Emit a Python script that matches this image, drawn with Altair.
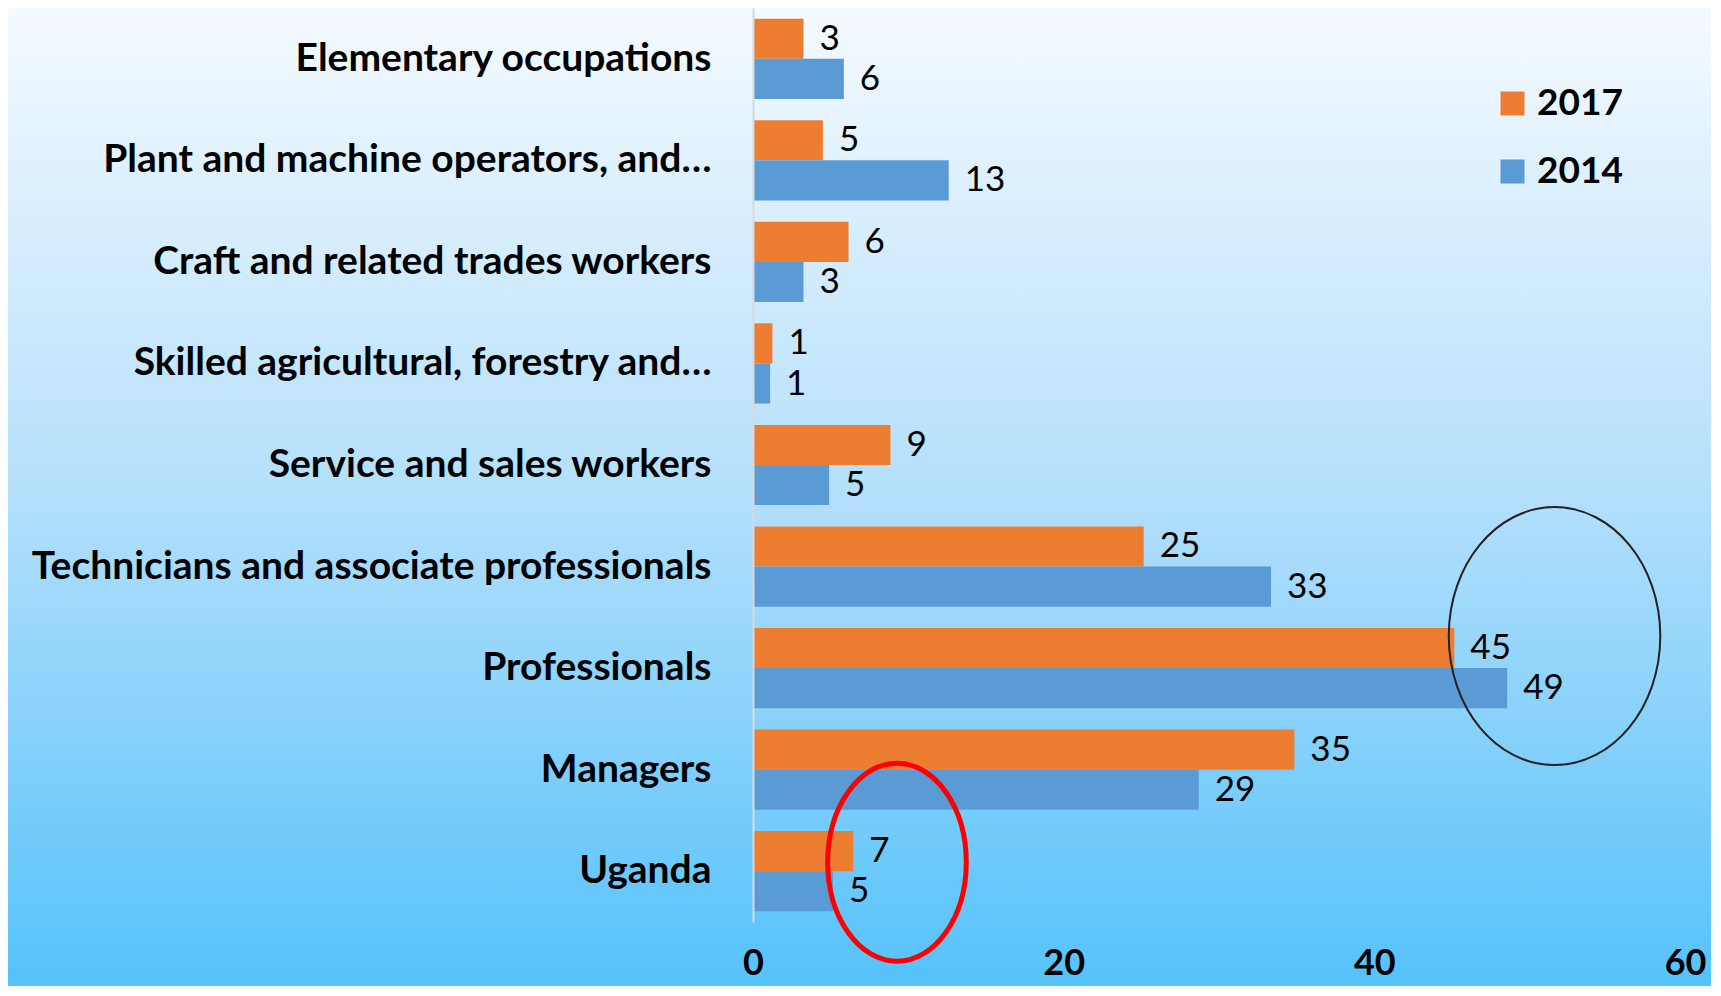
import altair as alt
import pandas as pd

categories = [
    "Elementary occupations",
    "Plant and machine operators, and…",
    "Craft and related trades workers",
    "Skilled agricultural, forestry and…",
    "Service and sales workers",
    "Technicians and associate professionals",
    "Professionals",
    "Managers",
    "Uganda",
]
years = ["2017", "2014"]
values_2017 = [3.25, 4.5, 6.15, 1.25, 8.85, 25.15, 45.15, 34.85, 6.45]
values_2014 = [5.85, 12.6, 3.25, 1.1, 4.9, 33.35, 48.55, 28.7, 5.15]
labels_2017 = [3, 5, 6, 1, 9, 25, 45, 35, 7]
labels_2014 = [6, 13, 3, 1, 5, 33, 49, 29, 5]
colors = ["#ED7D31", "#5B9BD5"]
x_ticks = [0, 20, 40, 60]

# annotation ellipses (data-space centres)
ellipse_categories = ["Uganda", "Professionals"]
ellipse_x = [9.27, 51.6]

rows = []
for i, c in enumerate(categories):
    rows.append({"category": c, "year": "2017", "value": values_2017[i], "label": str(labels_2017[i])})
    rows.append({"category": c, "year": "2014", "value": values_2014[i], "label": str(labels_2014[i])})
df = pd.DataFrame(rows)

W, H = 932, 914
PL, PR, PT, PB = 745, 26, 0, 64

x_enc = alt.X(
    "value:Q",
    scale=alt.Scale(domain=[0, 60]),
    axis=alt.Axis(
        values=x_ticks, title=None, grid=False, domain=False, ticks=False,
        labelFont="Lato", labelFontWeight="bold", labelFontSize=36,
        labelColor="black", labelPadding=24, labelFlush=False, zindex=1,
    ),
)
y_enc = alt.Y(
    "category:N",
    sort=categories,
    scale=alt.Scale(paddingInner=0.21, paddingOuter=0.105),
    axis=alt.Axis(
        title=None, ticks=False, labelFont="Lato", labelFontWeight="bold",
        labelFontSize=39, labelColor="black", labelPadding=42, labelLimit=1000,
        domainColor="#d9d9d9", domainWidth=2, zindex=1,
    ),
)
yoff_enc = alt.YOffset("year:N", sort=years)

bg = alt.Chart(alt.Data(values=[{}])).mark_rect(
    fill=alt.LinearGradient(
        gradient="linear",
        stops=[
            alt.GradientStop(color="#F5FAFF", offset=0),
            alt.GradientStop(color="#B3DFFB", offset=0.5),
            alt.GradientStop(color="#55C2FA", offset=1),
        ],
        x1=0, x2=0, y1=0, y2=1,
    )
).encode(
    x=alt.value(-PL), x2=alt.value(W + PR), y=alt.value(-PT), y2=alt.value(H + PB)
)

bars = alt.Chart(df).mark_bar().encode(
    x=x_enc,
    y=y_enc,
    yOffset=yoff_enc,
    color=alt.Color(
        "year:N",
        sort=years,
        scale=alt.Scale(domain=years, range=colors),
        legend=alt.Legend(
            title=None, orient="none", legendX=741, legendY=77,
            symbolType="square", symbolSize=576, symbolStrokeWidth=0,
            labelFont="Lato", labelFontWeight="bold", labelFontSize=37,
            labelColor="black", labelOffset=6, rowPadding=30,
        ),
    ),
)

texts = alt.Chart(df).mark_text(
    align="left", baseline="middle", dx=16, font="Lato", fontSize=35, color="black"
).encode(x=x_enc, y=y_enc, yOffset=yoff_enc, text="label:N")

ell_df = pd.DataFrame({"category": ellipse_categories, "value": ellipse_x})

red_path = "M 0 -1 A 0.7 1 0 1 1 0 1 A 0.7 1 0 1 1 0 -1 Z"
black_path = "M 0 -1 A 0.82 1 0 1 1 0 1 A 0.82 1 0 1 1 0 -1 Z"

red_ell = alt.Chart(ell_df.iloc[[0]]).mark_point(
    shape=red_path, size=(2 * 99) ** 2, filled=False, color="#FF0000",
    strokeWidth=5, opacity=1, yOffset=-9,
).encode(x=x_enc, y=y_enc)

black_ell = alt.Chart(ell_df.iloc[[1]]).mark_point(
    shape=black_path, size=(2 * 129) ** 2, filled=False, color="#222222",
    strokeWidth=2, opacity=1, yOffset=-32,
).encode(x=x_enc, y=y_enc)

chart = alt.layer(bg, bars, texts, red_ell, black_ell).properties(
    width=W, height=H,
    autosize=alt.AutoSizeParams(type="none"),
    padding={"left": PL, "right": PR, "top": PT, "bottom": PB},
).configure_view(stroke=None)

chart.save("out.html", embed_options={"renderer": "svg", "actions": False})
